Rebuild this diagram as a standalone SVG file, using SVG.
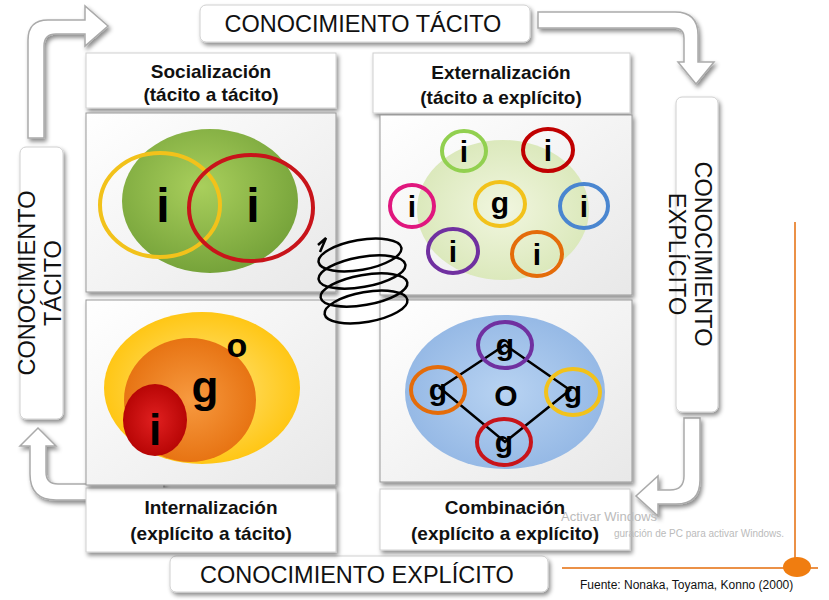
<svg xmlns="http://www.w3.org/2000/svg" width="829" height="600" viewBox="0 0 829 600">
<defs>
<filter id="sh" x="-10%" y="-10%" width="130%" height="130%"><feDropShadow dx="2" dy="3" stdDeviation="2" flood-color="#000" flood-opacity="0.45"/></filter>
<radialGradient id="gr" cx="0.45" cy="0.4" r="0.6"><stop offset="0" stop-color="#a9cf5c"/><stop offset="1" stop-color="#76a33a"/></radialGradient>
<radialGradient id="gy" cx="0.5" cy="0.5" r="0.6"><stop offset="0" stop-color="#ffe680"/><stop offset="1" stop-color="#ffc000"/></radialGradient>
<radialGradient id="go" cx="0.5" cy="0.5" r="0.6"><stop offset="0" stop-color="#f79a40"/><stop offset="1" stop-color="#e46c0a"/></radialGradient>
<radialGradient id="gre" cx="0.5" cy="0.5" r="0.6"><stop offset="0" stop-color="#e02020"/><stop offset="1" stop-color="#b00000"/></radialGradient>
<radialGradient id="gb" cx="0.5" cy="0.5" r="0.6"><stop offset="0" stop-color="#b8d3f2"/><stop offset="1" stop-color="#8fb4e3"/></radialGradient>
<radialGradient id="gl" cx="0.5" cy="0.5" r="0.6"><stop offset="0" stop-color="#f1f6df"/><stop offset="1" stop-color="#d7e6b5"/></radialGradient>
<linearGradient id="panel" x1="0" y1="0" x2="1" y2="1"><stop offset="0" stop-color="#ffffff"/><stop offset="1" stop-color="#e8e8e8"/></linearGradient>
</defs>
<style>
.box{fill:#fff;stroke:#d0d0d0;stroke-width:1;filter:url(#sh)}
.panel{fill:url(#panel);stroke:#999;stroke-width:1;filter:url(#sh)}
.lbl{font-family:"Liberation Sans",Arial,sans-serif;font-size:23.5px;fill:#111}
.hd{font-family:"Liberation Sans",Arial,sans-serif;font-size:19px;font-weight:bold;fill:#111;text-anchor:middle}
.big{font-family:"Liberation Sans",Arial,sans-serif;font-weight:bold;fill:#000;text-anchor:middle}
.arr{fill:#fff;stroke:#aaa;stroke-width:1.5;filter:url(#sh)}
.ring{fill:none;stroke-width:4}
</style>
<rect width="829" height="600" fill="#fff"/>

<g id="connectors">
<path class="arr" d="M28,138 V40 Q28,20 48,20 H85 V6 L108,26 L85,46 V34 H56 Q44,34 44,46 V138 Z"/>
<path class="arr" d="M538,12 H675 Q698,12 698,35 V62 H714 L696,84 L678,62 H684 V38 Q684,28 674,28 H538 Z"/>
<path class="arr" d="M700,418 V480 Q700,504 676,504 H658 V516 L636,496 L658,476 V490 H670 Q684,490 684,476 V418 Z"/>
<path class="arr" d="M164,500 H56 Q30,500 30,474 V446 H20 L38,428 L56,446 H46 V472 Q46,484 58,484 H164 Z"/>
</g>

<g id="tacito-top"><rect class="box" x="200" y="5" width="330" height="37" rx="6"/><text class="lbl" x="363" y="32" text-anchor="middle">CONOCIMIENTO TÁCITO</text></g>
<g id="explicito-bottom"><rect class="box" x="170" y="556" width="378" height="36" rx="6"/><text class="lbl" x="357" y="583" text-anchor="middle">CONOCIMIENTO EXPLÍCITO</text></g>
<g id="tacito-left"><rect class="box" x="20" y="147" width="43" height="272" rx="6"/><text class="lbl" transform="translate(49,283) rotate(-90)" text-anchor="middle"><tspan x="0" dy="-14">CONOCIMIENTO</tspan><tspan x="0" dy="26">TÁCITO</tspan></text></g>
<g id="explicito-right"><rect class="box" x="676" y="97" width="42" height="315" rx="6"/><text class="lbl" transform="translate(690,254) rotate(90)" text-anchor="middle"><tspan x="0" dy="-5">CONOCIMIENTO</tspan><tspan x="0" dy="26">EXPLÍCITO</tspan></text></g>

<g id="socializacion"><rect class="box" x="86" y="53" width="250" height="55"/><text class="hd" x="211" y="78">Socialización</text><text class="hd" x="211" y="101">(tácito a tácito)</text></g>
<g id="externalizacion"><rect class="box" x="373" y="53" width="257" height="60"/><text class="hd" x="501" y="79">Externalización</text><text class="hd" x="501" y="104">(tácito a explícito)</text></g>
<g id="internalizacion"><rect class="box" x="86" y="488" width="250" height="64"/><text class="hd" x="211" y="514">Internalización</text><text class="hd" x="211" y="540">(explícito a tácito)</text></g>
<g id="combinacion"><rect class="box" x="380" y="489" width="250" height="61"/><text class="hd" x="505" y="514">Combinación</text><text class="hd" x="505" y="540">(explícito a explícito)</text></g>

<g id="q-socializacion">
<rect class="panel" x="86" y="113" width="250" height="179"/>
<ellipse cx="210" cy="201" rx="88" ry="72" fill="url(#gr)"/>
<text class="big" x="163" y="222" font-size="48">i</text>
<text class="big" x="253" y="222" font-size="48">i</text>
<ellipse class="ring" cx="160" cy="205" rx="60" ry="52" stroke="#f2c21b"/>
<ellipse class="ring" cx="251" cy="208" rx="62" ry="53" stroke="#c8141a"/>
</g>

<g id="q-externalizacion">
<rect class="panel" x="380" y="115" width="252" height="180"/>
<ellipse cx="503" cy="210" rx="86" ry="70" fill="url(#gl)"/>
<g class="big" font-size="30">
<ellipse class="ring" cx="464" cy="151" rx="22" ry="20" stroke="#92d050" fill="#fff"/><text x="464" y="162">i</text>
<ellipse class="ring" cx="548" cy="150" rx="25" ry="21" stroke="#c00000" fill="#fff"/><text x="548" y="161">i</text>
<ellipse class="ring" cx="412" cy="206" rx="22" ry="21" stroke="#e0177e" fill="#fff"/><text x="412" y="217">i</text>
<ellipse class="ring" cx="500" cy="204" rx="25" ry="22" stroke="#f2c21b" fill="#fff"/><text x="500" y="213">g</text>
<ellipse class="ring" cx="584" cy="206" rx="24" ry="22" stroke="#4a86d0" fill="#fff"/><text x="584" y="217">i</text>
<ellipse class="ring" cx="453" cy="251" rx="25" ry="22" stroke="#7030a0" fill="#fff"/><text x="453" y="262">i</text>
<ellipse class="ring" cx="537" cy="254" rx="25" ry="22" stroke="#e46c0a" fill="#fff"/><text x="537" y="265">i</text>
</g>
</g>

<g id="q-internalizacion">
<rect class="panel" x="86" y="300" width="250" height="185"/>
<ellipse cx="202" cy="388" rx="98" ry="76" fill="url(#gy)"/>
<ellipse cx="190" cy="400" rx="66" ry="62" fill="url(#go)"/>
<ellipse cx="155" cy="420" rx="32" ry="36" fill="url(#gre)"/>
<text class="big" x="237" y="357" font-size="34">o</text>
<text class="big" x="205" y="402" font-size="44">g</text>
<text class="big" x="155" y="445" font-size="44">i</text>
</g>

<g id="q-combinacion">
<rect class="panel" x="380" y="300" width="252" height="182"/>
<ellipse cx="505" cy="392" rx="100" ry="77" fill="url(#gb)"/>
<path d="M440,388 L505,345 L570,390 L505,442 Z" fill="none" stroke="#000" stroke-width="2.5"/>
<g class="big" font-size="30">
<ellipse class="ring" cx="505" cy="345" rx="27" ry="23" stroke="#7030a0" fill="#a9c6ee"/><text x="505" y="355">g</text>
<ellipse class="ring" cx="438" cy="390" rx="27" ry="23" stroke="#e46c0a" fill="#a9c6ee"/><text x="438" y="400">g</text>
<ellipse class="ring" cx="573" cy="392" rx="27" ry="23" stroke="#f2c21b" fill="#a9c6ee"/><text x="573" y="402">g</text>
<ellipse class="ring" cx="504" cy="442" rx="27" ry="23" stroke="#c8141a" fill="#a9c6ee"/><text x="504" y="452">g</text>
<text x="506" y="406">O</text>
</g>
</g>

<g id="spiral" fill="none" stroke="#000" stroke-width="2.5">
<ellipse cx="360" cy="255" rx="42" ry="15" transform="rotate(-10 360 255)"/>
<ellipse cx="362" cy="272" rx="44" ry="15" transform="rotate(-10 362 272)"/>
<ellipse cx="364" cy="290" rx="44" ry="15" transform="rotate(-10 364 290)"/>
<ellipse cx="366" cy="307" rx="42" ry="15" transform="rotate(-10 366 307)"/>
<path d="M318,245 L326,238 L320,252"/>
</g>

<g id="source">
<line x1="795" y1="222" x2="795" y2="566" stroke="#e46c0a" stroke-width="1.5"/>
<line x1="562" y1="568" x2="818" y2="568" stroke="#e46c0a" stroke-width="1.5"/>
<ellipse cx="797" cy="567" rx="14" ry="10" fill="#f07d10"/>
<text x="580" y="589" font-family="Liberation Sans,Arial,sans-serif" font-size="12" fill="#111">Fuente: Nonaka, Toyama, Konno (2000)</text>
<text x="561" y="521" font-family="Liberation Sans,Arial,sans-serif" font-size="13" fill="#bbb">Activar Windows</text>
<text x="614" y="537" font-family="Liberation Sans,Arial,sans-serif" font-size="10" fill="#bbb">guración de PC para activar Windows.</text>
</g>
</svg>
